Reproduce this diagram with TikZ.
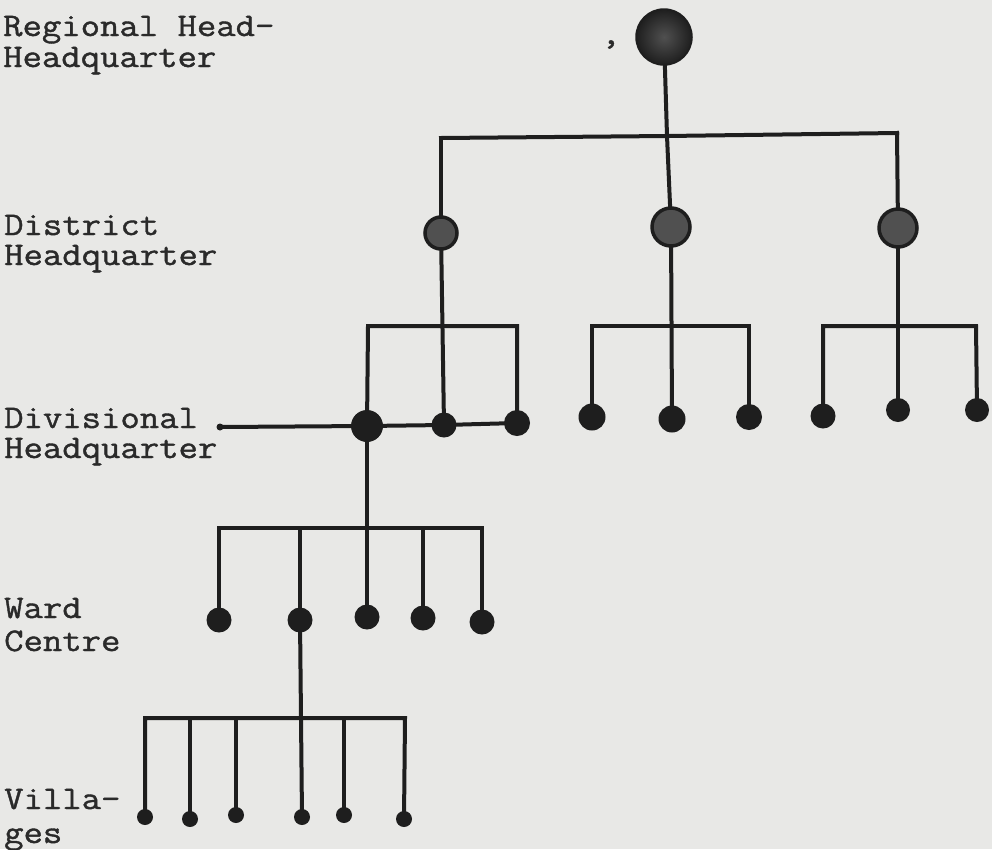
\documentclass[tikz,border=0pt]{standalone}
\usepackage{fontspec}
\newfontfamily\typewriter[FakeBold=1.2,FakeStretch=1.14]{Latin Modern Mono}
\definecolor{paper}{HTML}{E8E8E6}
\definecolor{ink}{HTML}{1E1E1E}
\definecolor{disk}{HTML}{505050}
\definecolor{type}{HTML}{2A2A2A}
\begin{document}
\begin{tikzpicture}[x=1pt,y=-1pt,
  wire/.style={draw=ink, line width=4pt, line cap=rect, line join=miter},
  topnode/.style={circle, inner sep=0pt, minimum size=56pt, draw=ink, line width=1.5pt,
    inner color=disk, outer color=ink},
  distnode/.style={circle, inner sep=0pt, minimum size=#1, fill=disk, draw=ink, line width=3.5pt},
  leaf/.style={circle, inner sep=0pt, minimum size=#1, fill=ink},
  lbl/.style={anchor=base west, inner sep=0pt, align=left, text=type,
    font=\typewriter\fontsize{33}{28}\selectfont}]

% paper
\fill[paper] (0,0) rectangle (992,849);
\useasboundingbox (0,0) rectangle (992,849);

% level labels (placed by the baseline of their last line)
\node[lbl] (lregion) at (3,67) {Regional Head-\\[3pt]Headquarter};
\node[lbl] (ldistrict) at (4,265) {District\\[2pt]Headquarter};
\node[lbl] (ldivision) at (4,458) {Divisional\\[2pt]Headquarter};
\node[lbl] (lward) at (4,651) {Ward\\[5pt]Centre};
\node[lbl] (lvillage) at (4,843) {Villa-\\[6pt]ges};
\node[lbl, anchor=base] (comma) at (611,44) {,};

% regional headquarter
\node[topnode] (T) at (664,37) {};

% district headquarters
\node[distnode=32pt] (D1) at (441,233) {};
\node[distnode=38pt] (D2) at (671,227) {};
\node[distnode=38pt] (D3) at (898,228) {};

% divisional headquarters
\node[leaf=32pt] (V1a) at (367,426) {};
\node[leaf=25pt] (V1b) at (444,425) {};
\node[leaf=26pt] (V1c) at (517,423) {};
\node[leaf=27pt] (V2a) at (592,417) {};
\node[leaf=27pt] (V2b) at (672,419) {};
\node[leaf=26pt] (V2c) at (749,417) {};
\node[leaf=25pt] (V3a) at (823,416) {};
\node[leaf=24pt] (V3b) at (898,410) {};
\node[leaf=24pt] (V3c) at (977,410) {};
\node[leaf=7pt] (lead) at (220,427) {};

% ward centres
\node[leaf=25pt] (W1) at (219,620) {};
\node[leaf=25pt] (W2) at (300,620) {};
\node[leaf=25pt] (W3) at (367,617) {};
\node[leaf=25pt] (W4) at (423,618) {};
\node[leaf=25pt] (W5) at (482,622) {};

% villages
\node[leaf=16pt] (X1) at (145,817) {};
\node[leaf=16pt] (X2) at (190,819) {};
\node[leaf=16pt] (X3) at (236,815) {};
\node[leaf=16pt] (X4) at (302,817) {};
\node[leaf=16pt] (X5) at (344,815) {};
\node[leaf=16pt] (X6) at (404,819) {};

% junction points on the bars
\coordinate (a0) at (667,136);
\coordinate (aL) at (441,138);
\coordinate (aR) at (897,133);
\coordinate (g1L) at (368,326);
\coordinate (g1R) at (517,326);
\coordinate (g2L) at (592,326);
\coordinate (g2R) at (749,326);
\coordinate (g3L) at (823,326);
\coordinate (g3R) at (976,326);
\coordinate (wL) at (219,528);
\coordinate (w2) at (300,528);
\coordinate (w4) at (423,528);
\coordinate (wR) at (482,528);
\coordinate (vL) at (145,718);
\coordinate (v2) at (190,718);
\coordinate (v3) at (236,718);
\coordinate (v5) at (344,718);
\coordinate (vR) at (405,718);

% region to districts
\draw[wire] (T) -- (a0);
\draw[wire] (aL) -- (a0) -- (aR);
\draw[wire] (aL) -- (D1);
\draw[wire] (a0) -- (D2);
\draw[wire] (aR) -- (D3);

% districts to divisions
\draw[wire] (D1) -- (V1b);
\draw[wire] (V1a) -- (g1L) -- (g1R) -- (V1c);
\draw[wire] (D2) -- (V2b);
\draw[wire] (V2a) -- (g2L) -- (g2R) -- (V2c);
\draw[wire] (D3) -- (V3b);
\draw[wire] (V3a) -- (g3L) -- (g3R) -- (V3c);

% divisional pointer line
\draw[wire] (lead) -- (V1a);
\draw[wire] (V1a) -- (V1b);
\draw[wire] (V1b) -- (V1c);

% division to wards
\draw[wire] (V1a) -- (W3);
\draw[wire] (W1) -- (wL) -- (wR) -- (W5);
\draw[wire] (w2) -- (W2);
\draw[wire] (w4) -- (W4);

% ward to villages
\draw[wire] (W2) -- (X4);
\draw[wire] (X1) -- (vL) -- (vR) -- (X6);
\draw[wire] (v2) -- (X2);
\draw[wire] (v3) -- (X3);
\draw[wire] (v5) -- (X5);
\end{tikzpicture}
\end{document}
